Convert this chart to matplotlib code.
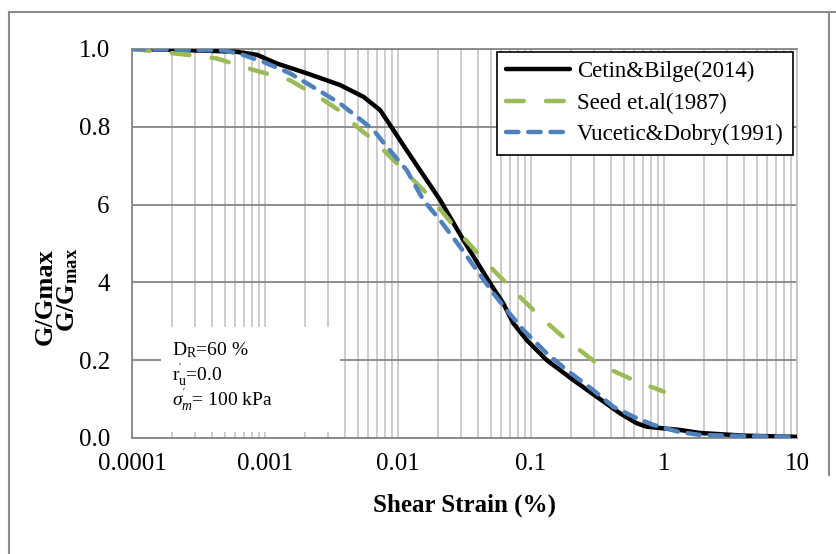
import numpy as np
import matplotlib.pyplot as plt
from matplotlib.patches import Rectangle
from matplotlib.lines import Line2D

plt.rcParams['font.family'] = ['Liberation Serif', 'DejaVu Serif']
plt.rcParams['mathtext.fontset'] = 'custom'
plt.rcParams['mathtext.rm'] = 'Liberation Serif'
plt.rcParams['mathtext.it'] = 'Liberation Serif:italic'
plt.rcParams['mathtext.bf'] = 'Liberation Serif:bold'

# Cetin&Bilge(2014)
cetin_strain = [0.0001, 0.0002, 0.0004, 0.0006, 0.00087, 0.00122, 0.00206, 0.00366, 0.0055,
                0.00733, 0.0087, 0.0116, 0.0207, 0.031, 0.0492, 0.0619, 0.0736, 0.0927,
                0.131, 0.208, 0.312, 0.467, 0.623, 0.741, 1.32, 1.86, 4.0, 10]
cetin_g = [1.0, 0.998, 0.995, 0.993, 0.985, 0.963, 0.9375, 0.9075, 0.877,
           0.843, 0.805, 0.740, 0.612, 0.509, 0.398, 0.346, 0.295, 0.252,
           0.2005, 0.149, 0.106, 0.0635, 0.038, 0.029, 0.0206, 0.013, 0.006, 0.003]

# Seed et.al(1987)
seed_strain = [0.0001, 0.00023, 0.00043, 0.00082, 0.00154, 0.00275, 0.00388, 0.0049, 0.00653,
               0.00822, 0.0104, 0.0174, 0.0292, 0.0465, 0.0736, 0.117, 0.185, 0.312, 0.588, 1.0]
seed_g = [1.0, 0.987, 0.976, 0.946, 0.920, 0.869, 0.835, 0.800, 0.766,
          0.732, 0.697, 0.620, 0.526, 0.449, 0.380, 0.312, 0.252, 0.192, 0.149, 0.119]

# Vucetic&Dobry(1991)
vd_strain = [0.0001, 0.0005, 0.00068, 0.00097, 0.00154, 0.00206, 0.00275, 0.00366, 0.0049,
             0.00653, 0.00822, 0.0116, 0.0155, 0.0207, 0.0292, 0.039, 0.0521, 0.0656, 0.0875,
             0.131, 0.185, 0.294, 0.416, 0.588, 0.832, 1.32, 1.86, 4.0, 10]
vd_g = [1.0, 0.996, 0.985, 0.967, 0.9375, 0.912, 0.886, 0.860, 0.826,
        0.792, 0.749, 0.689, 0.612, 0.560, 0.492, 0.432, 0.372, 0.329, 0.278,
        0.218, 0.175, 0.123, 0.080, 0.055, 0.0334, 0.015, 0.008, 0.005, 0.003]

x_ticks = [0.0001, 0.001, 0.01, 0.1, 1, 10]
x_labels = ['0.0001', '0.001', '0.01', '0.1', '1', '10']
y_ticks = [0.0, 0.2, 0.4, 0.6, 0.8, 1.0]
y_labels = ['0.0', '0.2', '4', '6', '0.8', '1.0']

fs = 18
major_c = '#868686'
minor_c = '#BFBFBF'

fig = plt.figure(figsize=(8.37, 5.54), dpi=100)
ax = fig.add_axes([0.1577, 0.2094, 0.7945, 0.7022])
ax.set_xscale('log')
ax.set_xlim(1e-4, 10)
ax.set_ylim(0, 1)

# grid
ax.set_xticks(x_ticks)
ax.set_xticklabels(x_labels, fontsize=fs)
ax.set_yticks(y_ticks)
ax.set_yticklabels(y_labels, fontsize=fs)
ax.xaxis.grid(True, which='both', color=minor_c, lw=1.1)
ax.yaxis.grid(True, which='major', color=major_c, lw=1.3)
ax.tick_params(which='both', length=0)
ax.tick_params(axis='x', pad=11)
ax.tick_params(axis='y', pad=16)
ax.set_axisbelow(True)
for s in ['left', 'bottom', 'top']:
    ax.spines[s].set_color(major_c)
    ax.spines[s].set_linewidth(1.3)
ax.spines['right'].set_color(minor_c)
ax.spines['right'].set_linewidth(1.1)

# white text box covering the grid
ax.add_patch(Rectangle((0.044, 0.015), 0.269, 0.27, transform=ax.transAxes,
                       facecolor='white', edgecolor='none', zorder=1.5))
ax.text(0.06, 0.226, 'D$_\\mathregular{R}$=60 %', transform=ax.transAxes, fontsize=14, zorder=3,
        va='center')
ax.text(0.06, 0.163, "r$_\\mathregular{u}^{'}$=0.0", transform=ax.transAxes, fontsize=14, zorder=3,
        va='center')
ax.text(0.06, 0.100, "$\\sigma_m^{'}$= 100 kPa", transform=ax.transAxes, fontsize=14, zorder=3,
        va='center')

ax.plot(cetin_strain, cetin_g, color='black', lw=3.2, solid_capstyle='round',
        solid_joinstyle='round', label='Cetin&Bilge(2014)', zorder=3)
ax.plot(seed_strain, seed_g, color='#9BBB59', lw=3.2, dashes=(4, 5),
        dash_capstyle='round', label='Seed et.al(1987)', zorder=3)
ax.plot(vd_strain, vd_g, color='#4F81BD', lw=3.2, dashes=(2.8, 2.2),
        dash_capstyle='round', label='Vucetic&Dobry(1991)', zorder=4)

leg = ax.legend(loc='upper right', bbox_to_anchor=(0.994, 0.992), fontsize=16.5,
                fancybox=False, framealpha=1, edgecolor='black', handlelength=2.8,
                handletextpad=0.3, borderpad=0.4, labelspacing=0.45, borderaxespad=0)
leg.get_frame().set_linewidth(1.2)

ax.set_xlabel('Shear Strain (%)', fontsize=fs, fontweight='bold', labelpad=13)

# overlapping y labels
fig.text(45 / 837, 1 - 297 / 554, 'G/Gmax', rotation=90, fontsize=19, fontweight='bold',
         ha='center', va='center')
fig.text(68 / 837, 1 - 290 / 554, 'G/G$_{\\mathbf{max}}$', rotation=90, fontsize=19,
         fontweight='bold', ha='center', va='center')

# chart area border
fig.add_artist(Line2D([9 / 837, 9 / 837], [0, 1 - 12 / 554], color='#8C8C8C', lw=1.5))
fig.add_artist(Line2D([9 / 837, 1], [1 - 12 / 554, 1 - 12 / 554], color='#8C8C8C', lw=1.5))
fig.add_artist(Line2D([829 / 837, 829 / 837], [1 - 475 / 554, 1 - 12 / 554],
                      color='#8C8C8C', lw=1.5))

fig.savefig('out.png', dpi=100)
